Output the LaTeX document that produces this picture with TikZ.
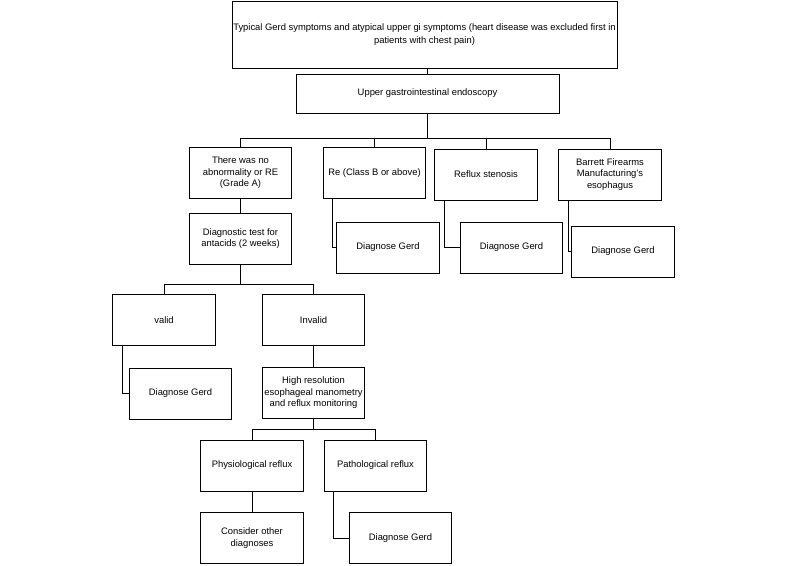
\documentclass[tikz,border=0pt]{standalone}
\usepackage{fontspec}
\setmainfont{Liberation Sans}
\usepackage{xcolor}
\usepackage{tikz}
\usetikzlibrary{positioning}

\begin{document}
\begin{tikzpicture}[scale=1.0,node distance=72pt]
      \tikzset{box/.style={rectangle,draw=black,line width=0.9pt,align=center,inner sep=1pt,
          minimum width=102.5pt,minimum height=51pt,font=\fontsize{9.4}{11.5}\selectfont}}
      \tikzset{wide/.style={box,minimum width=263pt,minimum height=39pt}}
      \tikzset{head/.style={box,inner sep=0pt,minimum width=385pt,minimum height=67pt,font=\fontsize{9.4}{13.5}\selectfont}}
      \tikzset{link/.style={draw=black,line width=0.9pt}}

      \useasboundingbox (0,0) rectangle (800pt,-565pt);

      \node[head] (top) at (424.5pt,-34.5pt) {Typical Gerd symptoms and atypical upper gi symptoms (heart disease was excluded first in\\patients with chest pain)};
      \node[wide] (endo) [below of=top,xshift=3pt,yshift=13pt] {Upper gastrointestinal endoscopy};

      \node[box] (nor) [below of=endo,xshift=-187pt,yshift=-7.5pt] {There was no\\abnormality or RE\\(Grade A)};
      \node[box] (re) [right of=nor,xshift=62pt] {Re (Class B or above)};
      \node[box] (sten) [right of=re,xshift=39.5pt,yshift=-1.5pt] {Reflux stenosis};
      \node[box] (barr) [right of=sten,xshift=52pt] {Barrett Firearms\\Manufacturing's\\esophagus};

      \node[box] (diag) [below of=nor,yshift=6.5pt] {Diagnostic test for\\antacids (2 weeks)};
      \node[box] (dgre) [below of=re,xshift=13.5pt,yshift=-2.5pt] {Diagnose Gerd};
      \node[box] (dgsten) [below of=sten,xshift=25.5pt,yshift=-1pt] {Diagnose Gerd};
      \node[box] (dgbarr) [below of=barr,xshift=13pt,yshift=-5pt] {Diagnose Gerd};

      \node[box] (valid) [below of=diag,xshift=-76.5pt,yshift=-9.5pt] {valid};
      \node[box] (inval) [right of=valid,xshift=77.5pt] {Invalid};
      \node[box] (dgvalid) [below of=valid,xshift=16.5pt,yshift=-1.5pt] {Diagnose Gerd};
      \node[box] (hrm) [below of=inval,yshift=-1pt] {High resolution\\esophageal manometry\\and reflux monitoring};

      \node[box] (phys) [below of=hrm,xshift=-61.5pt,yshift=-0.5pt] {Physiological reflux};
      \node[box] (path) [right of=phys,xshift=51.5pt] {Pathological reflux};
      \node[box] (cons) [below of=phys,yshift=-0.5pt] {Consider other\\diagnoses};
      \node[box] (dgpath) [below of=path,xshift=25pt,yshift=-0.5pt] {Diagnose Gerd};

      \draw[link] (endo.north |- top.south) -- (endo.north);
      \draw[link] (endo.south) -- ++(0,-25pt) coordinate (bus1);
      \draw[link] (nor.north) |- (bus1);
      \draw[link] (re.north) |- (bus1);
      \draw[link] (sten.north) |- (bus1);
      \draw[link] (barr.north) |- (bus1);

      \draw[link] (nor) -- (diag);
      \draw[link] ([xshift=10pt]re.south west) |- (dgre.west);
      \draw[link] ([xshift=10pt]sten.south west) |- (dgsten.west);
      \draw[link] ([xshift=10pt]barr.south west) |- (dgbarr.west);

      \draw[link] (diag.south) -- ++(0,-20pt) coordinate (bus2);
      \draw[link] (valid.north) |- (bus2);
      \draw[link] (inval.north) |- (bus2);
      \draw[link] ([xshift=10pt]valid.south west) |- (dgvalid.west);
      \draw[link] (inval) -- (hrm);

      \draw[link] (hrm.south) -- ++(0,-10.5pt) coordinate (bus3);
      \draw[link] (phys.north) |- (bus3);
      \draw[link] (path.north) |- (bus3);
      \draw[link] (phys) -- (cons);
      \draw[link] ([xshift=10pt]path.south west) |- (dgpath.west);

    \end{tikzpicture}
\end{document}
